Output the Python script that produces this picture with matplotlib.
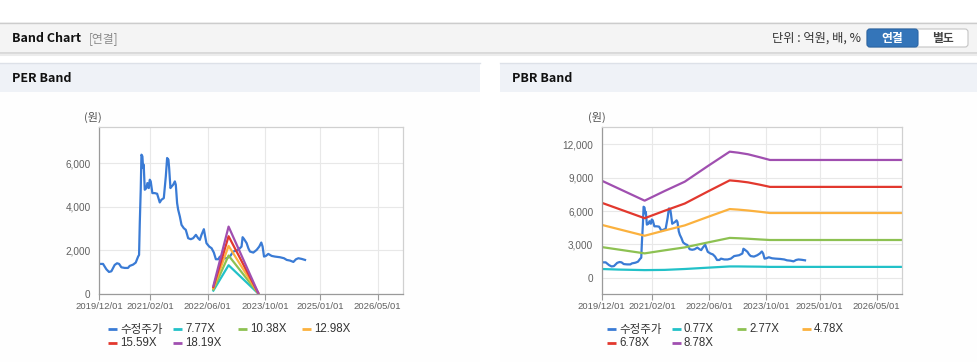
import matplotlib
matplotlib.use("Agg")
import matplotlib.pyplot as plt
import matplotlib.dates as mdates
from matplotlib.patches import Rectangle, FancyBboxPatch
from matplotlib.ticker import FuncFormatter
import pandas as pd

plt.rcParams['font.family'] = ['Noto Sans CJK KR', 'DejaVu Sans']

# adjusted share price (shared by both charts)
price_dates = ['2019-12-01', '2020-01-04', '2020-02-01', '2020-02-23', '2020-03-14', '2020-04-11',
               '2020-05-01', '2020-05-18', '2020-06-06', '2020-07-04', '2020-08-01', '2020-08-15',
               '2020-09-13', '2020-10-05', '2020-10-25', '2020-11-02', '2020-11-08', '2020-11-16',
               '2020-11-22', '2020-11-30', '2020-12-06', '2020-12-11', '2020-12-20', '2021-01-03',
               '2021-01-11', '2021-01-23', '2021-01-31', '2021-02-08', '2021-02-22', '2021-03-14',
               '2021-04-03', '2021-04-25', '2021-05-09', '2021-05-29', '2021-06-15', '2021-06-26',
               '2021-07-07', '2021-07-13', '2021-07-24', '2021-08-04', '2021-08-16', '2021-08-30',
               '2021-09-07', '2021-09-18', '2021-09-27', '2021-10-11', '2021-10-25', '2021-11-13',
               '2021-11-30', '2021-12-20', '2022-01-11', '2022-01-31', '2022-02-23', '2022-03-14',
               '2022-03-28', '2022-04-11', '2022-05-01', '2022-05-12', '2022-05-23', '2022-06-15',
               '2022-07-05', '2022-07-24', '2022-08-10', '2022-08-30', '2022-09-13', '2022-10-11',
               '2022-11-08', '2022-12-06', '2023-01-03', '2023-02-14', '2023-03-14', '2023-03-23',
               '2023-04-03', '2023-04-26', '2023-05-10', '2023-05-24', '2023-06-21', '2023-07-19',
               '2023-08-10', '2023-08-27', '2023-09-07', '2023-09-19', '2023-10-05', '2023-10-25',
               '2023-11-22', '2023-12-20', '2024-01-31', '2024-03-05', '2024-03-28', '2024-04-25',
               '2024-05-23', '2024-06-14', '2024-07-04', '2024-08-01', '2024-08-29']
price = [1378, 1378, 1133, 1010, 1041, 1332, 1408, 1378, 1224, 1194, 1194, 1286,
         1347, 1439, 1714, 1791, 3245, 4776, 6383, 6306, 5770, 5923, 4776, 4852,
         5082, 4852, 5235, 5158, 4622, 4622, 4592, 4194, 4316, 4393, 5388, 6230,
         6153, 5770, 4852, 4929, 5005, 5158, 5005, 4163, 3857, 3551, 3168, 3015,
         2939, 2556, 2510, 2556, 2709, 2556, 2480, 2709, 2969, 2633, 2327, 2173,
         2097, 1898, 1592, 1592, 1714, 1638, 1638, 1714, 1944, 2020, 2173, 2602,
         2526, 2327, 2097, 1944, 1898, 2020, 2173, 2357, 2173, 1714, 1745, 1837,
         1745, 1714, 1684, 1638, 1561, 1531, 1469, 1592, 1638, 1607, 1561]

# PER band
per_dates = ['2022-07-20', '2022-11-25', '2023-08-01']
per_777 = [157, 1319, 23]
per_1038 = [210, 1762, 31]
per_1298 = [262, 2203, 39]
per_1559 = [315, 2646, 47]
per_1819 = [367, 3087, 55]

# PBR band
pbr_dates = ['2019-12-01', '2020-04-18', '2020-12-01', '2021-05-21', '2021-11-08', '2022-05-25',
             '2022-11-26', '2023-02-06', '2023-05-01', '2023-08-10', '2023-11-04', '2026-12-01']
pbr_077 = [780, 730, 680, 700, 780, 900, 1010, 1010, 1000, 990, 970, 970]
pbr_277 = [2754, 2538, 2186, 2462, 2726, 3172, 3578, 3549, 3504, 3440, 3390, 3390]
pbr_478 = [4753, 4380, 3773, 4248, 4704, 5473, 6174, 6125, 6046, 5930, 5820, 5820]
pbr_678 = [6741, 6213, 5351, 6025, 6672, 7763, 8757, 8687, 8576, 8368, 8170, 8170]
pbr_878 = [8730, 8046, 6930, 7803, 8640, 10053, 11340, 11250, 11106, 10836, 10593, 10593]

x_ticks = ['2019-12-01', '2021-02-01', '2022-06-01', '2023-10-01', '2025-01-01', '2026-05-01']

C_PRICE = '#3a7bd5'
C_CYAN = '#22c1c8'
C_GREEN = '#8dc152'
C_ORANGE = '#fbb13e'
C_RED = '#e2382e'
C_PURPLE = '#a04fb0'

W, H = 978, 362
fig = plt.figure(figsize=(W / 100, H / 100), dpi=100)

# page background in pixel coordinates
bg = fig.add_axes([0, 0, 1, 1])
bg.set_xlim(0, W)
bg.set_ylim(H, 0)
bg.axis('off')
bg.add_patch(Rectangle((0, 22), W, 31, facecolor='#f4f4f4', edgecolor='none'))
bg.plot([0, W], [22.5, 22.5], color='#cccccc', lw=1)
bg.plot([0, W], [53, 53], color='#d4d4d4', lw=1.2)
bg.plot([0, W], [54.5, 54.5], color='#ececec', lw=1.5)
bg.text(12, 38.5, 'Band Chart', fontsize=9, fontweight='bold', color='#111111', va='center')
bg.text(89, 38.5, '[연결]', fontsize=8.5, color='#8a8a8a', va='center')
bg.text(861, 38.5, '단위 : 억원, 배, %', fontsize=8.8, color='#333333', va='center', ha='right')
bg.add_patch(FancyBboxPatch((867, 29), 101, 18, boxstyle='round,pad=0,rounding_size=3',
                            facecolor='white', edgecolor='#c4c4c4', lw=0.8))
bg.add_patch(FancyBboxPatch((867, 29), 51, 18, boxstyle='round,pad=0,rounding_size=3',
                            facecolor='#3475b9', edgecolor='#2b66a6', lw=0.8))
bg.text(892.5, 38.5, '연결', fontsize=8.5, fontweight='bold', color='white', va='center', ha='center')
bg.text(943, 38.5, '별도', fontsize=8.5, fontweight='bold', color='#444444', va='center', ha='center')

for x0, x1, title in [(0, 480, 'PER Band'), (500, W, 'PBR Band')]:
    bg.add_patch(Rectangle((x0, 63), x1 - x0, 29, facecolor='#eff2f7', edgecolor='none'))
    bg.plot([x0, x1], [63, 63], color='#dde1e8', lw=1)
    bg.add_patch(Rectangle((x0, 92), x1 - x0, 270, facecolor='#fefefe', edgecolor='none'))
    bg.text(x0 + 12, 78, title, fontsize=9, fontweight='bold', color='#111111', va='center')


def to_dt(lst):
    return pd.to_datetime(lst)


def style_axes(ax, ylim, yticks):
    ax.set_xlim(pd.Timestamp('2019-12-01'), pd.Timestamp('2026-12-01'))
    ax.set_ylim(*ylim)
    ax.set_yticks(yticks)
    ax.yaxis.set_major_formatter(FuncFormatter(lambda v, p: '{:,.0f}'.format(v)))
    ax.set_xticks(to_dt(x_ticks))
    ax.xaxis.set_major_formatter(mdates.DateFormatter('%Y/%m/%d'))
    ax.grid(True, color='#e8e8e8', lw=0.8)
    ax.set_axisbelow(True)
    for s in ['top', 'right']:
        ax.spines[s].set_color('#d0d0d0')
    for s in ['left', 'bottom']:
        ax.spines[s].set_color('#9a9a9a')
    for s in ax.spines.values():
        s.set_linewidth(0.9)
    ax.tick_params(axis='y', length=0, pad=6, labelsize=7.2, labelcolor='#606060')
    ax.tick_params(axis='x', length=4, color='#9a9a9a', pad=2, labelsize=6.8, labelcolor='#606060')
    for lab in ax.get_xticklabels() + ax.get_yticklabels():
        lab.set_family('Liberation Sans')


def legend(x_cols, labels, colors):
    rows = [329, 343]
    for i, (lab, col) in enumerate(zip(labels, colors)):
        r, c = divmod(i, 4)
        x = x_cols[c]
        y = rows[r]
        bg.plot([x, x + 9], [y, y], color=col, lw=2, solid_capstyle='butt')
        fam = 'Noto Sans CJK KR' if i == 0 else 'Liberation Sans'
        bg.text(x + 12, y, lab, fontsize=8.3, color='#333333', va='center', family=fam)


# PER chart
ax1 = fig.add_axes([99 / W, 1 - 294 / H, 304 / W, 167 / H])
ax1.plot(to_dt(price_dates), price, color=C_PRICE, lw=1.6)
per_series = [per_777, per_1038, per_1298, per_1559, per_1819]
per_colors = [C_CYAN, C_GREEN, C_ORANGE, C_RED, C_PURPLE]
for vals, col in zip(per_series, per_colors):
    ax1.plot(to_dt(per_dates), vals, color=col, lw=1.6)
style_axes(ax1, (0, 7650), [0, 2000, 4000, 6000])
bg.text(93, 117, '(원)', fontsize=8, color='#555555', va='center', ha='center')
legend([108, 173, 238, 302], ['수정주가', '7.77X', '10.38X', '12.98X', '15.59X', '18.19X'],
       [C_PRICE] + per_colors)

# PBR chart
ax2 = fig.add_axes([601.7 / W, 1 - 294 / H, 300 / W, 167 / H])
ax2.plot(to_dt(price_dates), price, color=C_PRICE, lw=1.6)
pbr_series = [pbr_077, pbr_277, pbr_478, pbr_678, pbr_878]
for vals, col in zip(pbr_series, per_colors):
    ax2.plot(to_dt(pbr_dates), vals, color=col, lw=1.6)
style_axes(ax2, (-1470, 13560), [0, 3000, 6000, 9000, 12000])
bg.text(597, 117, '(원)', fontsize=8, color='#555555', va='center', ha='center')
legend([607, 672, 737, 802], ['수정주가', '0.77X', '2.77X', '4.78X', '6.78X', '8.78X'],
       [C_PRICE] + per_colors)

fig.savefig('out.png', dpi=100)
